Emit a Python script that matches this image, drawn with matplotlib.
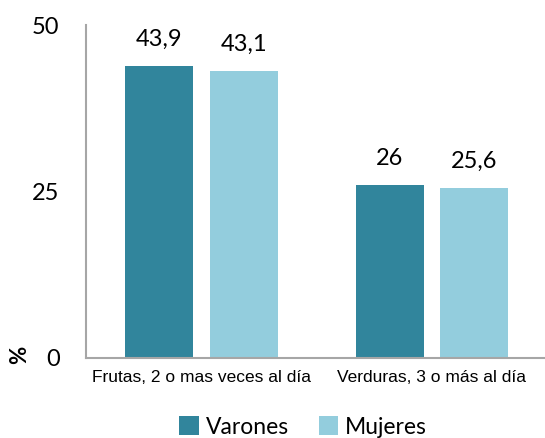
import matplotlib
matplotlib.use("Agg")
import matplotlib.pyplot as plt
import numpy as np
from matplotlib import font_manager

categories = ["Frutas, 2 o mas veces al día", "Verduras, 3 o más al día"]
series_names = ["Varones", "Mujeres"]
varones = [43.9, 26]
mujeres = [43.1, 25.6]
value_labels_v = ["43,9", "26"]
value_labels_m = ["43,1", "25,6"]
yticks = [0, 25, 50]
colors = ["#31859C", "#93CDDD"]

names = {f.name for f in font_manager.fontManager.ttflist}
main_font = "Lato" if "Lato" in names else "DejaVu Sans"
narrow_font = "Liberation Sans Narrow" if "Liberation Sans Narrow" in names else "Liberation Sans"

fig = plt.figure(figsize=(5.45, 4.38), dpi=100)
ax = fig.add_axes([86/545, 1-358/438, (545-86)/545, (358-25)/438])

x = np.arange(len(categories))
w = 0.295
off = 0.184
b1 = ax.bar(x - off, varones, w, color=colors[0], label=series_names[0])
b2 = ax.bar(x + off, mujeres, w, color=colors[1], label=series_names[1])

for rect, lab in zip(b1, value_labels_v):
    ax.text(rect.get_x() + rect.get_width()/2, rect.get_height() + 2.4, lab,
            ha="center", va="bottom", fontsize=17, family=main_font)
for rect, lab in zip(b2, value_labels_m):
    ax.text(rect.get_x() + rect.get_width()/2, rect.get_height() + 2.4, lab,
            ha="center", va="bottom", fontsize=17, family=main_font)

ax.set_ylim(0, 50)
ax.set_xlim(-0.5, 1.49)
ax.set_yticks(yticks)
ax.set_yticklabels([str(t) for t in yticks], fontsize=17, family=main_font)
ax.set_xticks(x)
ax.set_xticklabels(categories, fontsize=12.5, family=narrow_font)
ax.tick_params(axis="both", length=0)
ax.tick_params(axis="y", pad=19)
ax.tick_params(axis="x", pad=9)
for s in ["top", "right"]:
    ax.spines[s].set_visible(False)
for s in ["left", "bottom"]:
    ax.spines[s].set_color("#A6A6A6")
    ax.spines[s].set_linewidth(1.5)

fig.text(20/545, 1-355/438, "%", rotation=90, ha="center", va="center",
         fontsize=16, fontweight="bold", family=main_font)

leg = fig.legend(handles=[b1, b2], labels=series_names, loc="center",
                 bbox_to_anchor=(303/545, 1-427/438), ncol=2, frameon=False,
                 prop={"family": main_font, "size": 16.5}, handlelength=0.85,
                 handleheight=0.85, handletextpad=0.3, columnspacing=1.3,
                 borderpad=0)

fig.savefig("out.png", dpi=100)
